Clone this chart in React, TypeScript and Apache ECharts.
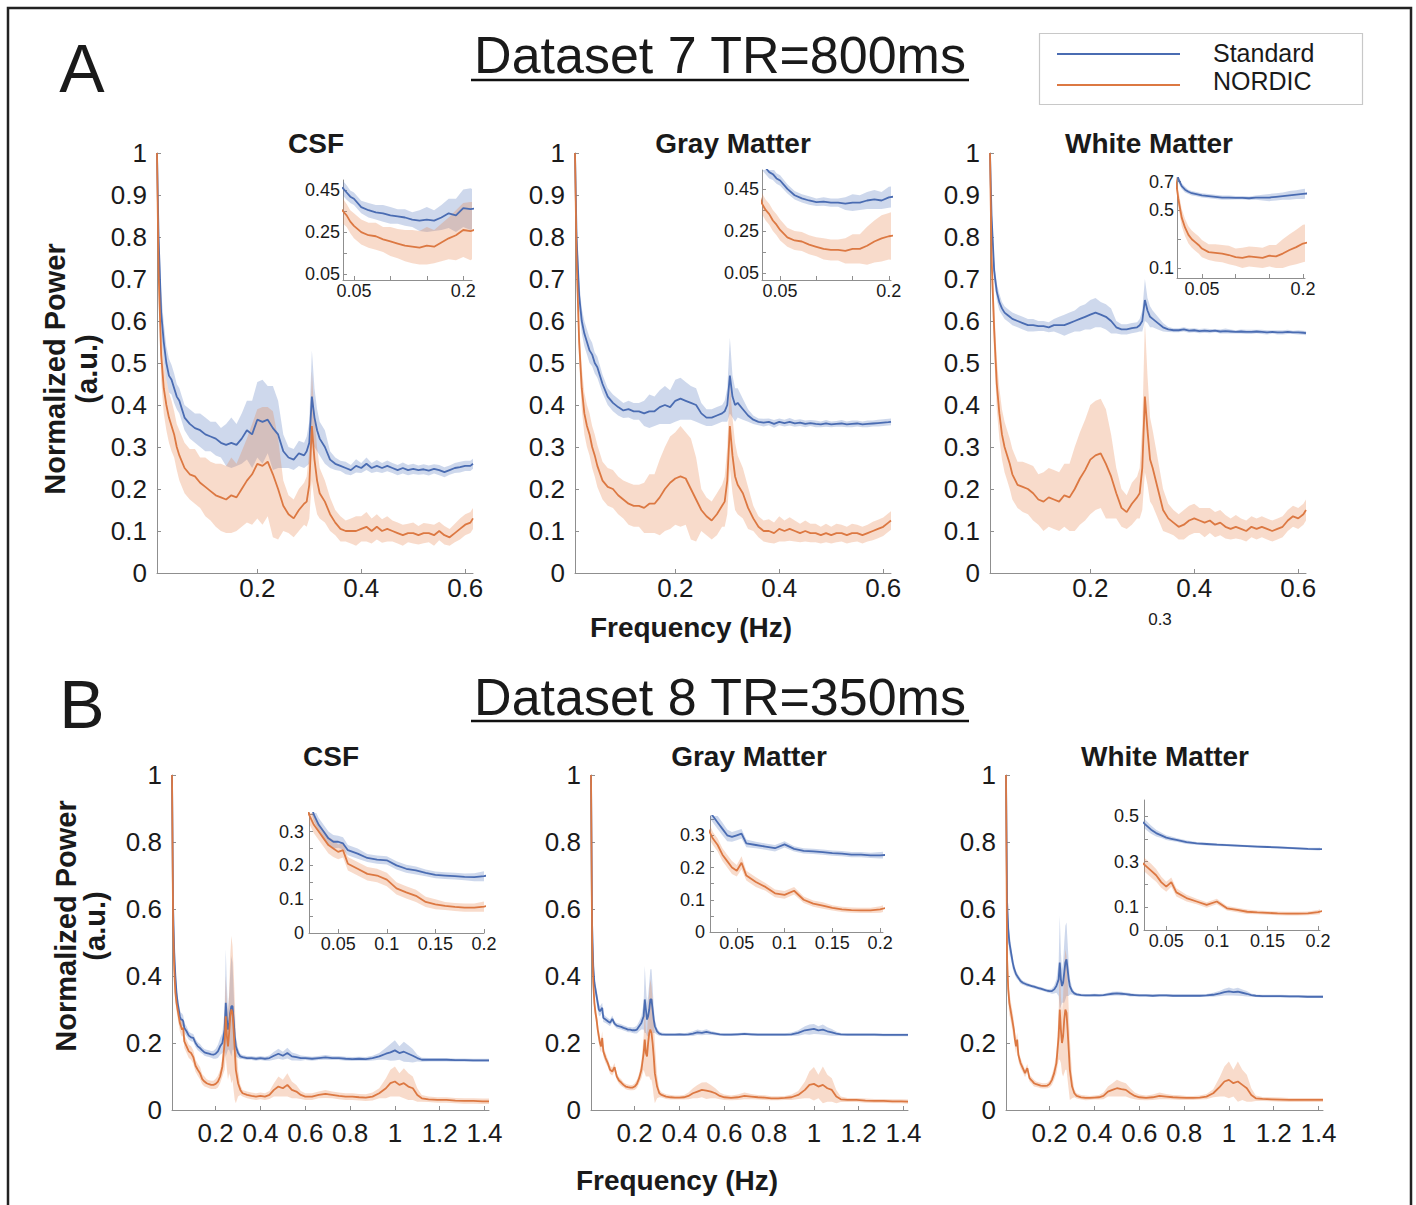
import React, { useEffect, useRef } from 'react';
import * as echarts from 'echarts';

// ---------------- DATA ----------------
// Dataset 7 (TR = 800 ms) frequency grid (Hz)
const A_FREQ = [
  0.007, 0.01, 0.015, 0.02, 0.025, 0.03, 0.035, 0.04, 0.045, 0.05,
  0.06, 0.07, 0.08, 0.09, 0.1, 0.11, 0.12, 0.13, 0.14, 0.15,
  0.16, 0.17, 0.18, 0.19, 0.2, 0.21, 0.22, 0.23, 0.24, 0.25,
  0.26, 0.27, 0.28, 0.29, 0.295, 0.3, 0.305, 0.31, 0.315, 0.32,
  0.33, 0.34, 0.35, 0.36, 0.37, 0.38, 0.39, 0.4, 0.41, 0.42,
  0.43, 0.44, 0.45, 0.46, 0.47, 0.48, 0.49, 0.5, 0.51, 0.52,
  0.53, 0.54, 0.55, 0.56, 0.57, 0.58, 0.59, 0.6, 0.61, 0.615,
];
const A_CSF_STD = [
  1.0, 0.8, 0.62, 0.55, 0.5, 0.47, 0.46, 0.44, 0.42, 0.41,
  0.37, 0.355, 0.345, 0.34, 0.33, 0.325, 0.32, 0.31, 0.305, 0.31,
  0.305, 0.32, 0.34, 0.33, 0.365, 0.36, 0.365, 0.345, 0.33, 0.29,
  0.275, 0.27, 0.285, 0.28, 0.29, 0.31, 0.42, 0.37, 0.34, 0.32,
  0.3, 0.27, 0.26, 0.255, 0.25, 0.245, 0.255, 0.25, 0.26, 0.25,
  0.255, 0.25, 0.255, 0.25, 0.245, 0.25, 0.245, 0.248, 0.245, 0.247,
  0.244, 0.248, 0.245, 0.24, 0.245, 0.25, 0.252, 0.255, 0.255, 0.26,
];
const A_CSF_STD_SD = [
  0, 0.05, 0.05, 0.045, 0.04, 0.04, 0.035, 0.035, 0.03, 0.03,
  0.03, 0.035, 0.035, 0.04, 0.04, 0.035, 0.04, 0.035, 0.05, 0.06,
  0.05, 0.06, 0.07, 0.08, 0.09, 0.1, 0.08, 0.1, 0.08, 0.04,
  0.025, 0.025, 0.03, 0.03, 0.035, 0.05, 0.11, 0.07, 0.05, 0.04,
  0.04, 0.02, 0.015, 0.012, 0.015, 0.012, 0.016, 0.012, 0.015, 0.012,
  0.014, 0.012, 0.013, 0.012, 0.012, 0.013, 0.012, 0.012, 0.011, 0.012,
  0.012, 0.011, 0.012, 0.012, 0.011, 0.012, 0.013, 0.012, 0.012, 0.012,
];
const A_CSF_NOR = [
  1.0, 0.72, 0.52, 0.44, 0.4, 0.37, 0.35, 0.33, 0.3, 0.28,
  0.25, 0.235, 0.23, 0.215, 0.205, 0.195, 0.185, 0.18, 0.175, 0.185,
  0.18, 0.2, 0.22, 0.235, 0.26, 0.255, 0.265, 0.235, 0.2, 0.16,
  0.14, 0.13, 0.15, 0.165, 0.17, 0.21, 0.35, 0.27, 0.22, 0.19,
  0.17, 0.14, 0.12, 0.105, 0.1, 0.1, 0.1, 0.105, 0.11, 0.1,
  0.11, 0.1, 0.105, 0.1, 0.095, 0.09, 0.095, 0.095, 0.09, 0.095,
  0.095, 0.09, 0.1, 0.09, 0.085, 0.095, 0.105, 0.115, 0.12, 0.13,
];
const A_CSF_NOR_SD = [
  0, 0.06, 0.06, 0.06, 0.06, 0.06, 0.06, 0.055, 0.055, 0.06,
  0.06, 0.06, 0.065, 0.06, 0.07, 0.07, 0.075, 0.08, 0.08, 0.09,
  0.08, 0.09, 0.1, 0.12, 0.13, 0.14, 0.13, 0.15, 0.12, 0.06,
  0.045, 0.045, 0.05, 0.05, 0.06, 0.08, 0.13, 0.1, 0.08, 0.06,
  0.05, 0.04, 0.03, 0.03, 0.025, 0.03, 0.035, 0.03, 0.035, 0.03,
  0.03, 0.028, 0.03, 0.025, 0.025, 0.025, 0.022, 0.025, 0.022, 0.024,
  0.022, 0.025, 0.022, 0.022, 0.02, 0.022, 0.025, 0.025, 0.025, 0.025,
];
const A_GM_STD = [
  1.0, 0.8, 0.66, 0.6, 0.57, 0.55, 0.53, 0.52, 0.5, 0.49,
  0.45, 0.42, 0.405, 0.395, 0.387, 0.39, 0.385, 0.385, 0.38, 0.385,
  0.385, 0.395, 0.4, 0.395, 0.41, 0.415, 0.41, 0.405, 0.4, 0.38,
  0.37, 0.37, 0.375, 0.38, 0.385, 0.4, 0.47, 0.42, 0.4, 0.405,
  0.39, 0.375, 0.365, 0.36, 0.358, 0.36, 0.355, 0.36, 0.357, 0.36,
  0.356, 0.358, 0.355, 0.357, 0.355, 0.354, 0.356, 0.354, 0.355, 0.356,
  0.354, 0.355, 0.356, 0.354, 0.355, 0.356, 0.357, 0.358, 0.359, 0.36,
];
const A_GM_STD_SD = [
  0, 0.04, 0.035, 0.03, 0.03, 0.03, 0.03, 0.028, 0.025, 0.025,
  0.022, 0.02, 0.02, 0.02, 0.018, 0.02, 0.02, 0.02, 0.03, 0.04,
  0.035, 0.04, 0.045, 0.04, 0.05, 0.05, 0.045, 0.04, 0.04, 0.025,
  0.02, 0.02, 0.02, 0.02, 0.025, 0.04, 0.09, 0.05, 0.04, 0.035,
  0.025, 0.015, 0.01, 0.008, 0.009, 0.008, 0.009, 0.008, 0.008, 0.009,
  0.008, 0.008, 0.008, 0.007, 0.008, 0.007, 0.008, 0.007, 0.007, 0.008,
  0.007, 0.008, 0.007, 0.007, 0.008, 0.007, 0.008, 0.008, 0.008, 0.008,
];
const A_GM_NOR = [
  1.0, 0.75, 0.55, 0.44, 0.38, 0.35, 0.33, 0.3, 0.28, 0.255,
  0.22, 0.205, 0.2, 0.185, 0.175, 0.165, 0.16, 0.16, 0.155, 0.165,
  0.165, 0.18, 0.2, 0.215, 0.225, 0.23, 0.225, 0.2, 0.175, 0.15,
  0.135, 0.125, 0.14, 0.16, 0.17, 0.22, 0.35, 0.28, 0.23, 0.21,
  0.19, 0.155, 0.13, 0.11, 0.1, 0.1, 0.095, 0.105, 0.1, 0.105,
  0.1, 0.095, 0.1, 0.095, 0.095, 0.09, 0.095, 0.09, 0.095, 0.095,
  0.09, 0.095, 0.095, 0.09, 0.095, 0.1, 0.105, 0.11, 0.12, 0.125,
];
const A_GM_NOR_SD = [
  0, 0.05, 0.05, 0.05, 0.05, 0.05, 0.05, 0.05, 0.05, 0.05,
  0.045, 0.045, 0.045, 0.045, 0.045, 0.05, 0.05, 0.05, 0.06, 0.07,
  0.07, 0.09, 0.1, 0.11, 0.11, 0.12, 0.11, 0.12, 0.1, 0.05,
  0.045, 0.045, 0.05, 0.05, 0.06, 0.08, 0.1, 0.09, 0.08, 0.07,
  0.06, 0.05, 0.03, 0.025, 0.025, 0.028, 0.025, 0.03, 0.025, 0.028,
  0.025, 0.022, 0.025, 0.022, 0.022, 0.02, 0.022, 0.02, 0.022, 0.02,
  0.02, 0.022, 0.02, 0.02, 0.02, 0.022, 0.022, 0.022, 0.022, 0.022,
];
const A_WM_STD = [
  1.0, 0.85, 0.72, 0.67, 0.645, 0.63, 0.62, 0.615, 0.61, 0.605,
  0.6, 0.595, 0.59, 0.59, 0.588, 0.588, 0.585, 0.59, 0.59, 0.59,
  0.595, 0.6, 0.605, 0.61, 0.615, 0.62, 0.615, 0.61, 0.6, 0.585,
  0.58, 0.58, 0.583, 0.585, 0.59, 0.6, 0.65, 0.625, 0.61, 0.605,
  0.595, 0.585, 0.58, 0.578, 0.578, 0.58, 0.577, 0.578, 0.576, 0.577,
  0.576, 0.577, 0.575, 0.576, 0.575, 0.574, 0.575, 0.574, 0.574, 0.575,
  0.574, 0.573, 0.574, 0.573, 0.573, 0.574, 0.573, 0.573, 0.572, 0.571,
];
const A_WM_STD_SD = [
  0, 0.03, 0.025, 0.02, 0.02, 0.015, 0.015, 0.015, 0.015, 0.015,
  0.015, 0.015, 0.015, 0.015, 0.012, 0.012, 0.012, 0.015, 0.02, 0.025,
  0.025, 0.025, 0.03, 0.03, 0.035, 0.035, 0.03, 0.03, 0.03, 0.015,
  0.012, 0.012, 0.012, 0.012, 0.015, 0.025, 0.05, 0.03, 0.025, 0.02,
  0.015, 0.01, 0.006, 0.005, 0.005, 0.005, 0.005, 0.005, 0.005, 0.005,
  0.005, 0.004, 0.005, 0.006, 0.005, 0.004, 0.005, 0.005, 0.005, 0.004,
  0.005, 0.005, 0.004, 0.005, 0.005, 0.005, 0.004, 0.005, 0.005, 0.005,
];
const A_WM_NOR = [
  1.0, 0.75, 0.58, 0.45, 0.38, 0.33, 0.3, 0.28, 0.26, 0.235,
  0.21, 0.205, 0.2, 0.19, 0.175, 0.17, 0.18, 0.175, 0.17, 0.185,
  0.18, 0.2, 0.225, 0.245, 0.27, 0.28, 0.285, 0.26, 0.23, 0.19,
  0.155, 0.145, 0.165, 0.18, 0.19, 0.25, 0.42, 0.34, 0.27, 0.25,
  0.2, 0.15, 0.13, 0.12, 0.11, 0.115, 0.125, 0.13, 0.125, 0.12,
  0.125, 0.115, 0.12, 0.11, 0.105, 0.11, 0.105, 0.1, 0.11, 0.105,
  0.11, 0.105, 0.1, 0.105, 0.11, 0.125, 0.135, 0.13, 0.14, 0.15,
];
const A_WM_NOR_SD = [
  0, 0.06, 0.06, 0.06, 0.06, 0.06, 0.06, 0.06, 0.06, 0.06,
  0.055, 0.06, 0.06, 0.065, 0.06, 0.07, 0.07, 0.07, 0.07, 0.075,
  0.08, 0.1, 0.11, 0.12, 0.13, 0.13, 0.13, 0.13, 0.1, 0.06,
  0.045, 0.04, 0.05, 0.05, 0.06, 0.1, 0.18, 0.13, 0.1, 0.09,
  0.07, 0.05, 0.035, 0.03, 0.03, 0.035, 0.035, 0.035, 0.03, 0.035,
  0.03, 0.03, 0.03, 0.028, 0.025, 0.028, 0.025, 0.025, 0.025, 0.025,
  0.025, 0.025, 0.025, 0.025, 0.025, 0.025, 0.025, 0.025, 0.025, 0.025,
];

// Dataset 8 (TR = 350 ms) frequency grid (Hz)
const B_FREQ = [
  0.005, 0.01, 0.015, 0.02, 0.025, 0.03, 0.035, 0.04, 0.045, 0.05,
  0.055, 0.06, 0.07, 0.08, 0.09, 0.1, 0.11, 0.12, 0.13, 0.14,
  0.15, 0.16, 0.17, 0.18, 0.19, 0.2, 0.21, 0.22, 0.23, 0.24,
  0.245, 0.25, 0.255, 0.26, 0.265, 0.27, 0.275, 0.28, 0.285, 0.29,
  0.3, 0.31, 0.32, 0.34, 0.36, 0.38, 0.4, 0.42, 0.44, 0.46,
  0.48, 0.5, 0.52, 0.54, 0.56, 0.58, 0.6, 0.63, 0.66, 0.69,
  0.72, 0.75, 0.78, 0.81, 0.84, 0.87, 0.9, 0.93, 0.96, 0.98,
  1.0, 1.02, 1.04, 1.06, 1.08, 1.1, 1.12, 1.15, 1.19, 1.23,
  1.27, 1.31, 1.35, 1.39, 1.42,
];
const B_CSF_STD = [
  1.0, 0.6, 0.47, 0.4, 0.35, 0.32, 0.3, 0.28, 0.27, 0.27,
  0.265, 0.245, 0.235, 0.222, 0.217, 0.215, 0.2, 0.19, 0.185, 0.178,
  0.172, 0.17, 0.168, 0.166, 0.165, 0.168, 0.175, 0.19, 0.2, 0.24,
  0.32, 0.27, 0.24, 0.26, 0.29, 0.31, 0.31, 0.27, 0.22, 0.19,
  0.17, 0.16, 0.158, 0.155, 0.155, 0.153, 0.155, 0.153, 0.155, 0.162,
  0.168, 0.162, 0.17, 0.16, 0.158, 0.155, 0.155, 0.153, 0.155, 0.157,
  0.155, 0.155, 0.153, 0.152, 0.153, 0.152, 0.155, 0.16, 0.168, 0.172,
  0.178, 0.17, 0.174, 0.168, 0.162, 0.155, 0.15, 0.15, 0.15, 0.15,
  0.149, 0.149, 0.148, 0.148, 0.148,
];
const B_CSF_STD_SD = [
  0, 0.03, 0.025, 0.02, 0.02, 0.02, 0.02, 0.02, 0.02, 0.018,
  0.018, 0.015, 0.015, 0.012, 0.012, 0.012, 0.012, 0.012, 0.012, 0.01,
  0.01, 0.01, 0.01, 0.01, 0.012, 0.015, 0.02, 0.025, 0.03, 0.06,
  0.16, 0.1, 0.06, 0.08, 0.12, 0.15, 0.13, 0.09, 0.05, 0.03,
  0.015, 0.008, 0.006, 0.006, 0.006, 0.006, 0.006, 0.006, 0.008, 0.012,
  0.015, 0.012, 0.016, 0.012, 0.01, 0.008, 0.006, 0.006, 0.006, 0.007,
  0.006, 0.006, 0.006, 0.006, 0.006, 0.006, 0.007, 0.01, 0.018, 0.025,
  0.03, 0.02, 0.03, 0.025, 0.02, 0.01, 0.006, 0.005, 0.005, 0.005,
  0.005, 0.005, 0.005, 0.005, 0.005,
];
const B_CSF_NOR = [
  1.0, 0.55, 0.42, 0.35, 0.32, 0.3, 0.28, 0.26, 0.25, 0.24,
  0.245, 0.205, 0.19, 0.175, 0.17, 0.158, 0.132, 0.12, 0.11, 0.092,
  0.085, 0.08, 0.077, 0.075, 0.075, 0.078, 0.085, 0.1, 0.13, 0.2,
  0.28, 0.22, 0.19, 0.23, 0.28, 0.3, 0.29, 0.24, 0.18, 0.12,
  0.08, 0.06, 0.05, 0.045, 0.042, 0.04, 0.042, 0.04, 0.045, 0.06,
  0.07, 0.065, 0.075, 0.06, 0.055, 0.045, 0.04, 0.04, 0.045, 0.048,
  0.045, 0.042, 0.04, 0.04, 0.038, 0.037, 0.04, 0.05, 0.065, 0.08,
  0.085, 0.075, 0.08, 0.07, 0.065, 0.045, 0.035, 0.032, 0.03, 0.03,
  0.028, 0.027, 0.027, 0.026, 0.026,
];
const B_CSF_NOR_SD = [
  0, 0.04, 0.03, 0.025, 0.025, 0.025, 0.025, 0.025, 0.025, 0.022,
  0.022, 0.02, 0.02, 0.02, 0.02, 0.02, 0.018, 0.018, 0.018, 0.015,
  0.015, 0.012, 0.012, 0.012, 0.012, 0.015, 0.018, 0.02, 0.03, 0.08,
  0.12, 0.1, 0.1, 0.12, 0.18, 0.22, 0.2, 0.18, 0.15, 0.1,
  0.04, 0.015, 0.01, 0.01, 0.01, 0.01, 0.01, 0.01, 0.012, 0.02,
  0.03, 0.025, 0.035, 0.025, 0.02, 0.012, 0.01, 0.01, 0.01, 0.012,
  0.01, 0.01, 0.01, 0.01, 0.01, 0.01, 0.012, 0.015, 0.03, 0.04,
  0.045, 0.035, 0.045, 0.04, 0.035, 0.02, 0.01, 0.008, 0.008, 0.008,
  0.008, 0.008, 0.008, 0.008, 0.008,
];
const B_GM_STD = [
  1.0, 0.55, 0.43, 0.38, 0.36, 0.34, 0.32, 0.3, 0.295, 0.3,
  0.305, 0.275, 0.27, 0.265, 0.26, 0.272, 0.258, 0.252, 0.25, 0.248,
  0.245, 0.243, 0.24, 0.24, 0.238, 0.238, 0.24, 0.25, 0.26, 0.28,
  0.33, 0.3, 0.27, 0.28, 0.3, 0.33, 0.33, 0.3, 0.27, 0.25,
  0.235, 0.228, 0.226, 0.225, 0.225, 0.225, 0.226, 0.225, 0.226, 0.228,
  0.232, 0.23, 0.233, 0.23, 0.228, 0.226, 0.225, 0.225, 0.226, 0.227,
  0.226, 0.225, 0.225, 0.225, 0.225, 0.225, 0.226, 0.23, 0.238, 0.24,
  0.242, 0.238, 0.24, 0.235, 0.232, 0.228, 0.226, 0.225, 0.225, 0.225,
  0.225, 0.224, 0.224, 0.224, 0.224,
];
const B_GM_STD_SD = [
  0, 0.03, 0.025, 0.02, 0.02, 0.02, 0.02, 0.018, 0.015, 0.015,
  0.015, 0.012, 0.01, 0.01, 0.01, 0.01, 0.008, 0.008, 0.008, 0.008,
  0.008, 0.008, 0.008, 0.008, 0.008, 0.01, 0.012, 0.015, 0.02, 0.04,
  0.1, 0.07, 0.05, 0.06, 0.08, 0.09, 0.09, 0.07, 0.04, 0.02,
  0.01, 0.006, 0.005, 0.004, 0.004, 0.004, 0.004, 0.004, 0.005, 0.007,
  0.008, 0.007, 0.008, 0.006, 0.005, 0.004, 0.004, 0.004, 0.004, 0.004,
  0.004, 0.004, 0.004, 0.004, 0.004, 0.004, 0.005, 0.008, 0.012, 0.015,
  0.015, 0.012, 0.015, 0.012, 0.01, 0.006, 0.004, 0.004, 0.004, 0.004,
  0.004, 0.004, 0.004, 0.004, 0.004,
];
const B_GM_NOR = [
  1.0, 0.5, 0.38, 0.32, 0.29, 0.27, 0.24, 0.22, 0.2, 0.19,
  0.215, 0.175, 0.155, 0.14, 0.12, 0.115, 0.128, 0.1, 0.088, 0.082,
  0.075, 0.07, 0.068, 0.067, 0.067, 0.07, 0.078, 0.095, 0.12, 0.17,
  0.21, 0.17, 0.16, 0.2, 0.23, 0.24, 0.23, 0.2, 0.16, 0.11,
  0.07, 0.05, 0.045, 0.04, 0.038, 0.037, 0.037, 0.038, 0.042, 0.05,
  0.055, 0.06, 0.058, 0.055, 0.05, 0.042, 0.038, 0.036, 0.038, 0.042,
  0.04, 0.038, 0.037, 0.035, 0.035, 0.036, 0.038, 0.045, 0.06, 0.075,
  0.078, 0.07, 0.075, 0.065, 0.06, 0.04, 0.032, 0.03, 0.03, 0.028,
  0.027, 0.027, 0.026, 0.026, 0.025,
];
const B_GM_NOR_SD = [
  0, 0.04, 0.03, 0.025, 0.02, 0.02, 0.02, 0.02, 0.02, 0.018,
  0.02, 0.015, 0.015, 0.012, 0.012, 0.012, 0.012, 0.01, 0.01, 0.01,
  0.008, 0.008, 0.008, 0.008, 0.008, 0.01, 0.012, 0.015, 0.025, 0.05,
  0.1, 0.07, 0.06, 0.1, 0.13, 0.15, 0.14, 0.13, 0.12, 0.09,
  0.035, 0.012, 0.008, 0.007, 0.007, 0.006, 0.006, 0.007, 0.01, 0.015,
  0.02, 0.022, 0.025, 0.02, 0.015, 0.01, 0.008, 0.007, 0.008, 0.01,
  0.008, 0.007, 0.007, 0.006, 0.006, 0.006, 0.008, 0.012, 0.025, 0.04,
  0.05, 0.035, 0.055, 0.04, 0.035, 0.02, 0.008, 0.006, 0.006, 0.006,
  0.006, 0.006, 0.006, 0.006, 0.006,
];
const B_WM_STD = [
  1.0, 0.62, 0.54, 0.5, 0.48, 0.46, 0.44, 0.425, 0.415, 0.405,
  0.4, 0.395, 0.385, 0.38, 0.377, 0.374, 0.372, 0.37, 0.368, 0.366,
  0.364, 0.362, 0.36, 0.358, 0.356, 0.355, 0.355, 0.36, 0.37, 0.39,
  0.44, 0.39, 0.37, 0.38, 0.41, 0.44, 0.45, 0.42, 0.39, 0.37,
  0.355, 0.348, 0.345, 0.343, 0.342, 0.342, 0.343, 0.342, 0.343, 0.345,
  0.347, 0.348, 0.347, 0.346, 0.344, 0.343, 0.342, 0.342, 0.341, 0.342,
  0.342, 0.341, 0.341, 0.341, 0.341, 0.341, 0.342, 0.344, 0.348, 0.352,
  0.354, 0.352, 0.353, 0.35, 0.347, 0.343, 0.341, 0.34, 0.34, 0.34,
  0.339, 0.339, 0.338, 0.338, 0.338,
];
const B_WM_STD_SD = [
  0, 0.04, 0.035, 0.03, 0.025, 0.02, 0.018, 0.015, 0.012, 0.01,
  0.01, 0.008, 0.008, 0.006, 0.006, 0.006, 0.005, 0.005, 0.005, 0.005,
  0.005, 0.005, 0.005, 0.005, 0.005, 0.006, 0.008, 0.012, 0.02, 0.05,
  0.14, 0.08, 0.05, 0.06, 0.09, 0.11, 0.11, 0.08, 0.05, 0.025,
  0.01, 0.006, 0.005, 0.004, 0.004, 0.004, 0.004, 0.004, 0.004, 0.005,
  0.006, 0.006, 0.006, 0.005, 0.005, 0.004, 0.004, 0.004, 0.004, 0.004,
  0.004, 0.004, 0.004, 0.004, 0.004, 0.004, 0.004, 0.006, 0.008, 0.01,
  0.012, 0.01, 0.012, 0.01, 0.008, 0.005, 0.004, 0.004, 0.004, 0.004,
  0.004, 0.004, 0.004, 0.004, 0.004,
];
const B_WM_NOR = [
  1.0, 0.45, 0.36, 0.32, 0.3, 0.28, 0.26, 0.24, 0.21, 0.19,
  0.21, 0.165, 0.14, 0.125, 0.11, 0.125, 0.095, 0.088, 0.08, 0.077,
  0.075, 0.073, 0.072, 0.072, 0.073, 0.078, 0.09, 0.11, 0.14, 0.22,
  0.3, 0.24, 0.2, 0.22, 0.27, 0.3, 0.29, 0.24, 0.18, 0.12,
  0.07, 0.05, 0.042, 0.038, 0.036, 0.036, 0.037, 0.038, 0.042, 0.055,
  0.06, 0.065, 0.062, 0.06, 0.05, 0.042, 0.038, 0.036, 0.038, 0.042,
  0.04, 0.038, 0.037, 0.036, 0.036, 0.037, 0.04, 0.05, 0.07, 0.085,
  0.09, 0.08, 0.085, 0.075, 0.065, 0.045, 0.035, 0.033, 0.032, 0.031,
  0.03, 0.03, 0.03, 0.03, 0.03,
];
const B_WM_NOR_SD = [
  0, 0.05, 0.04, 0.035, 0.03, 0.03, 0.03, 0.028, 0.025, 0.022,
  0.02, 0.018, 0.015, 0.012, 0.012, 0.012, 0.01, 0.01, 0.01, 0.008,
  0.008, 0.008, 0.008, 0.008, 0.008, 0.01, 0.015, 0.02, 0.03, 0.07,
  0.15, 0.1, 0.09, 0.12, 0.16, 0.18, 0.17, 0.15, 0.12, 0.09,
  0.035, 0.012, 0.008, 0.007, 0.007, 0.006, 0.006, 0.007, 0.01, 0.015,
  0.02, 0.025, 0.022, 0.02, 0.015, 0.01, 0.008, 0.007, 0.008, 0.01,
  0.008, 0.007, 0.007, 0.006, 0.006, 0.006, 0.008, 0.012, 0.03, 0.045,
  0.055, 0.04, 0.06, 0.045, 0.04, 0.02, 0.008, 0.006, 0.006, 0.006,
  0.006, 0.006, 0.006, 0.006, 0.006,
];

// Tick labels
const A_MAIN_X_LABELS = [0.2, 0.4, 0.6];
const B_MAIN_X_LABELS = [0.2, 0.4, 0.6, 0.8, 1, 1.2, 1.4];
const A_INSET_X_LABELS = [0.05, 0.2];
const A_INSET_X_TICKS = [0.05, 0.1, 0.15, 0.2];
const A_INSET_Y_LABELS = [0.05, 0.25, 0.45];
const A_INSET_Y_TICKS = [0.05, 0.15, 0.25, 0.35, 0.45];
const A_INSET_WM_Y_LABELS = [0.1, 0.5, 0.7];
const A_INSET_WM_Y_TICKS = [0.1, 0.3, 0.5, 0.7];
const B_INSET_X_LABELS = [0.05, 0.1, 0.15, 0.2];
const B_INSET_Y_LABELS = [0, 0.1, 0.2, 0.3];
const B_INSET_Y_TICKS = [0, 0.05, 0.1, 0.15, 0.2, 0.25, 0.3, 0.35];
const B_INSET_WM_Y_LABELS = [0, 0.1, 0.3, 0.5];
const B_INSET_WM_Y_TICKS = [0, 0.1, 0.2, 0.3, 0.4, 0.5];

const TISSUES = ['CSF', 'Gray Matter', 'White Matter'];
const SERIES_NAMES = ['Standard', 'NORDIC'];

// ---------------- STYLE ----------------
const FONT = '"Liberation Sans", Arial, Helvetica, sans-serif';
const TXT = '#1a1a1a';
const AXIS = '#8f8f8f';
const BLUE = '#4a6cb2';
const ORANGE = '#dc7842';
const BLUE_BAND = 'rgba(80,115,185,0.28)';
const ORANGE_BAND = 'rgba(230,125,70,0.28)';

const fmt = (v: number) => String(parseFloat(Number(v).toFixed(3)));

type Box = { left: number; top: number; width: number; height: number };

function App() {
  const ref = useRef<HTMLDivElement>(null);

  useEffect(() => {
    const chart = echarts.init(ref.current!, null, { renderer: 'svg' });

    const grids: any[] = [];
    const xAxes: any[] = [];
    const yAxes: any[] = [];
    const series: any[] = [];

    const bandSeries = (gi: number, freq: number[], mean: number[], sd: number[], color: string) => ({
      type: 'custom', xAxisIndex: gi, yAxisIndex: gi, silent: true, z: 2,
      data: freq.map((f, i) => [f, mean[i] - sd[i], mean[i] + sd[i]]),
      encode: { x: 0, y: [1, 2] },
      renderItem: (params: any, api: any) => {
        if (params.dataIndex !== 0) return null;
        const up = freq.map((f, i) => api.coord([f, mean[i] + sd[i]]));
        const lo = freq.map((f, i) => api.coord([f, mean[i] - sd[i]])).reverse();
        const cs = params.coordSys;
        return {
          type: 'polygon',
          shape: { points: up.concat(lo) },
          style: { fill: color, stroke: 'none' },
          clipPath: { type: 'rect', shape: { x: cs.x, y: cs.y, width: cs.width, height: cs.height } },
        };
      },
    });

    const addPlot = (
      box: Box,
      xr: [number, number],
      yr: [number, number],
      xOpt: any,
      yOpt: any,
      freq: number[],
      std: number[],
      stdSd: number[],
      nor: number[],
      norSd: number[]
    ) => {
      const gi = grids.length;
      grids.push({ ...box, outerBoundsMode: 'none', containLabel: false, show: false });
      xAxes.push({
        type: 'value', gridIndex: gi, min: xr[0], max: xr[1],
        axisLine: { show: true, onZero: false, lineStyle: { color: AXIS, width: 1 } },
        axisTick: { show: true, inside: true, length: 4, customValues: xOpt.ticks, lineStyle: { color: AXIS } },
        axisLabel: { show: true, customValues: xOpt.labels, formatter: fmt, fontSize: xOpt.fontSize, color: TXT, fontFamily: FONT, margin: xOpt.margin },
        splitLine: { show: false },
      });
      const yAxis: any = {
        type: 'value', gridIndex: gi, min: yr[0], max: yr[1],
        axisLine: { show: true, onZero: false, lineStyle: { color: AXIS, width: 1 } },
        axisTick: { show: true, inside: true, length: 4, lineStyle: { color: AXIS } },
        axisLabel: { show: true, formatter: fmt, fontSize: yOpt.fontSize, color: TXT, fontFamily: FONT, margin: yOpt.margin },
        splitLine: { show: false },
      };
      if (yOpt.interval) {
        yAxis.interval = yOpt.interval;
      } else {
        yAxis.axisTick.customValues = yOpt.ticks;
        yAxis.axisLabel.customValues = yOpt.labels;
      }
      yAxes.push(yAxis);

      series.push(bandSeries(gi, freq, std, stdSd, BLUE_BAND));
      series.push(bandSeries(gi, freq, nor, norSd, ORANGE_BAND));
      series.push({
        name: SERIES_NAMES[0], type: 'line', xAxisIndex: gi, yAxisIndex: gi,
        data: freq.map((f, i) => [f, std[i]]), symbol: 'none', silent: true,
        lineStyle: { color: BLUE, width: 1.8 }, z: 3,
      });
      series.push({
        name: SERIES_NAMES[1], type: 'line', xAxisIndex: gi, yAxisIndex: gi,
        data: freq.map((f, i) => [f, nor[i]]), symbol: 'none', silent: true,
        lineStyle: { color: ORANGE, width: 1.8 }, z: 4,
      });
    };

    const A_SETS = [
      [A_CSF_STD, A_CSF_STD_SD, A_CSF_NOR, A_CSF_NOR_SD],
      [A_GM_STD, A_GM_STD_SD, A_GM_NOR, A_GM_NOR_SD],
      [A_WM_STD, A_WM_STD_SD, A_WM_NOR, A_WM_NOR_SD],
    ];
    const B_SETS = [
      [B_CSF_STD, B_CSF_STD_SD, B_CSF_NOR, B_CSF_NOR_SD],
      [B_GM_STD, B_GM_STD_SD, B_GM_NOR, B_GM_NOR_SD],
      [B_WM_STD, B_WM_STD_SD, B_WM_NOR, B_WM_NOR_SD],
    ];

    const A_LEFT = [157, 575, 990];
    const B_LEFT = [172, 591, 1006];
    const A_INSETS: { box: Box; x: [number, number]; y: [number, number]; wm: boolean }[] = [
      { box: { left: 343, top: 180, width: 129, height: 100 }, x: [0.035, 0.212], y: [0.02, 0.5], wm: false },
      { box: { left: 762, top: 170, width: 129, height: 110 }, x: [0.025, 0.203], y: [0.017, 0.54], wm: false },
      { box: { left: 1177, top: 178, width: 128, height: 100 }, x: [0.013, 0.203], y: [0.03, 0.726], wm: true },
    ];
    const B_INSETS: { box: Box; x: [number, number]; y: [number, number]; wm: boolean }[] = [
      { box: { left: 309, top: 813, width: 175, height: 120 }, x: [0.02, 0.2], y: [0, 0.355], wm: false },
      { box: { left: 710, top: 816, width: 173, height: 116 }, x: [0.022, 0.203], y: [0, 0.36], wm: false },
      { box: { left: 1144, top: 800, width: 176, height: 130 }, x: [0.028, 0.202], y: [0, 0.57], wm: true },
    ];

    for (let p = 0; p < 3; p++) {
      const [s, ss, n, ns] = A_SETS[p];
      addPlot(
        { left: A_LEFT[p], top: 153, width: 316, height: 420 },
        [0.007, 0.615], [0, 1],
        { labels: A_MAIN_X_LABELS, ticks: A_MAIN_X_LABELS, fontSize: 26, margin: 2 },
        { interval: 0.1, fontSize: 26, margin: 10 },
        A_FREQ, s, ss, n, ns
      );
    }
    for (let p = 0; p < 3; p++) {
      const [s, ss, n, ns] = A_SETS[p];
      const ins = A_INSETS[p];
      addPlot(
        ins.box, ins.x, ins.y,
        { labels: A_INSET_X_LABELS, ticks: A_INSET_X_TICKS, fontSize: 18, margin: 2 },
        ins.wm
          ? { labels: A_INSET_WM_Y_LABELS, ticks: A_INSET_WM_Y_TICKS, fontSize: 18, margin: 3 }
          : { labels: A_INSET_Y_LABELS, ticks: A_INSET_Y_TICKS, fontSize: 18, margin: 3 },
        A_FREQ, s, ss, n, ns
      );
    }
    for (let p = 0; p < 3; p++) {
      const [s, ss, n, ns] = B_SETS[p];
      addPlot(
        { left: B_LEFT[p], top: 775, width: 317, height: 335 },
        [0.005, 1.42], [0, 1],
        { labels: B_MAIN_X_LABELS, ticks: B_MAIN_X_LABELS, fontSize: 26, margin: 10 },
        { interval: 0.2, fontSize: 26, margin: 10 },
        B_FREQ, s, ss, n, ns
      );
    }
    for (let p = 0; p < 3; p++) {
      const [s, ss, n, ns] = B_SETS[p];
      const ins = B_INSETS[p];
      addPlot(
        ins.box, ins.x, ins.y,
        { labels: B_INSET_X_LABELS, ticks: B_INSET_X_LABELS, fontSize: 18, margin: 2 },
        ins.wm
          ? { labels: B_INSET_WM_Y_LABELS, ticks: B_INSET_WM_Y_TICKS, fontSize: 18, margin: 5 }
          : { labels: B_INSET_Y_LABELS, ticks: B_INSET_Y_TICKS, fontSize: 18, margin: 5 },
        B_FREQ, s, ss, n, ns
      );
    }

    const txt = (text: string, x: number, y: number, size: number, bold = false, align = 'center', extra: any = {}) => ({
      type: 'text', x, y, silent: true, ...extra,
      style: {
        text, fontSize: size, fontWeight: bold ? 'bold' : 'normal', fontFamily: FONT,
        fill: TXT, align, verticalAlign: 'middle',
      },
    });

    const A_TITLE_X = [316, 733, 1149];
    const B_TITLE_X = [331, 749, 1165];

    const graphic: any[] = [
      { type: 'rect', silent: true, shape: { x: 8, y: 8, width: 1403, height: 1240 }, style: { fill: 'none', stroke: '#222', lineWidth: 2.5 } },
      txt('A', 82, 68, 68),
      txt('B', 82, 704, 68),
      txt('Dataset 7 TR=800ms', 720, 55, 52),
      { type: 'line', silent: true, shape: { x1: 471, y1: 80, x2: 969, y2: 80 }, style: { stroke: '#111', lineWidth: 2.5 } },
      txt('Dataset 8 TR=350ms', 720, 697, 52),
      { type: 'line', silent: true, shape: { x1: 471, y1: 721, x2: 969, y2: 721 }, style: { stroke: '#111', lineWidth: 2.5 } },
      // legend
      { type: 'rect', silent: true, shape: { x: 1039.5, y: 33.5, width: 323, height: 71 }, style: { fill: '#fff', stroke: '#c8c8c8', lineWidth: 1.2 } },
      { type: 'line', silent: true, shape: { x1: 1057, y1: 54, x2: 1180, y2: 54 }, style: { stroke: BLUE, lineWidth: 2.2 } },
      { type: 'line', silent: true, shape: { x1: 1057, y1: 85, x2: 1180, y2: 85 }, style: { stroke: ORANGE, lineWidth: 2.2 } },
      txt(SERIES_NAMES[0], 1213, 53, 25, false, 'left'),
      txt(SERIES_NAMES[1], 1213, 81, 25, false, 'left'),
      // axis names
      txt('Normalized Power', 55, 369, 29, true, 'center', { rotation: Math.PI / 2 }),
      txt('(a.u.)', 87, 369, 29, true, 'center', { rotation: Math.PI / 2 }),
      txt('Normalized Power', 66, 926, 29, true, 'center', { rotation: Math.PI / 2 }),
      txt('(a.u.)', 95, 926, 29, true, 'center', { rotation: Math.PI / 2 }),
      txt('Frequency (Hz)', 691, 627, 28, true),
      txt('Frequency (Hz)', 677, 1180, 28, true),
      txt('0.3', 1160, 619, 17),
    ];
    for (let p = 0; p < 3; p++) {
      graphic.push(txt(TISSUES[p], A_TITLE_X[p], 143, 28, true));
      graphic.push(txt(TISSUES[p], B_TITLE_X[p], 756, 28, true));
    }

    chart.setOption({
      animation: false,
      backgroundColor: '#ffffff',
      grid: grids,
      xAxis: xAxes,
      yAxis: yAxes,
      series,
      graphic,
    });

    return () => chart.dispose();
  }, []);

  return (
    <div
      ref={ref}
      style={{ position: 'absolute', left: 0, top: 0, width: 1416, height: 1205, background: '#fff' }}
    />
  );
}

export default App;
